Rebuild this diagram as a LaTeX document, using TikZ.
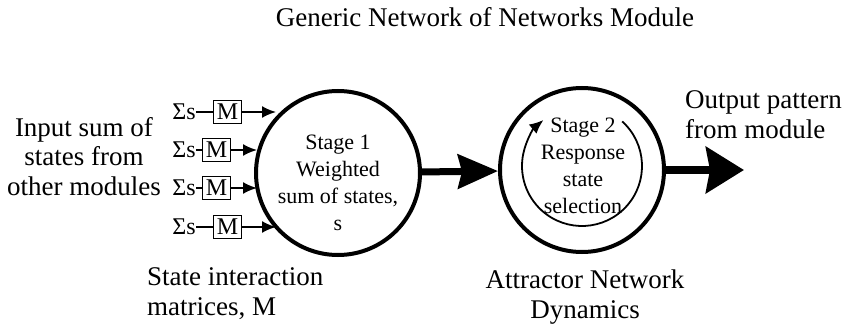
\documentclass[tikz,border=0pt]{standalone}
\usepackage{fontspec}
\setmainfont{Liberation Serif}
\usetikzlibrary{arrows.meta}
\begin{document}
\begin{tikzpicture}[x=1pt,y=-1pt,
  labeltext/.style={font=\fontsize{27}{29.5}\selectfont, inner sep=0pt},
  stagetext/.style={font=\fontsize{22}{27}\selectfont, inner sep=0pt, align=center},
  stagecircle/.style={circle, draw, line width=4pt, minimum size=164pt, inner sep=0pt},
  mbox/.style={draw, line width=1.6pt, minimum width=28pt, minimum height=23pt, inner sep=0pt,
    font=\fontsize{24}{24}\selectfont},
  sumtext/.style={inner sep=0pt, font=\fontsize{24}{24}\selectfont},
  tick/.style={line width=1.6pt},
  smallarrow/.style={line width=1.8pt, -{Latex[length=14pt,width=12pt]}},
  bigarrow/.style={line width=7pt, -{Stealth[length=40pt,width=34pt,inset=4pt]}},
  outarrow/.style={line width=8pt, -{Stealth[length=38pt,width=46pt,inset=4pt]}},
  looparrow/.style={line width=1.8pt, -{Latex[length=14pt,width=12pt]}},
]
\useasboundingbox (0,0) rectangle (845,326);

% title
\node[labeltext, anchor=base] (title) at (485,27) {Generic Network of Networks Module};

% the two stages
\node[stagecircle] (stage1) at (338,173) {};
\node[stagecircle] (stage2) at (582,170) {};

% multi-line nodes: the base anchor sits on the last line
\node[stagetext, anchor=base] (s1text) at (338,230)
  {Stage 1\\Weighted\\sum of states,\\s};
\node[stagetext, anchor=base] (s2text) at (583,213)
  {Stage 2\\Response\\state\\selection};

% recurrent loop inside stage 2
\coordinate (loopc) at (582,166);
\draw[looparrow] (loopc) ++(-48:60) arc[start angle=-48, end angle=230, radius=60];

% inputs: sum of states through interaction matrices
\foreach \i/\y/\mx/\tx in {1/112/227.5/276, 2/150/216.5/257, 3/188/216.5/257, 4/227/227.5/276}{
  \node[sumtext] (sig\i) at (184,\y) {Σs};
  \node[mbox] (m\i) at (\mx,\y) {M};
  \coordinate (in\i) at (\tx,\y);
  \draw[tick] (sig\i) -- (m\i);
  \draw[smallarrow] (m\i) -- (in\i);
}

% main flow
\draw[bigarrow] (stage1) -- (stage2);
\coordinate (out) at (744,170);
\draw[outarrow] (stage2.east) -- (out);

% labels
\node[labeltext, align=center, anchor=base] (inlabel) at (84,195)
  {Input sum of\\states from\\other modules};
\node[labeltext, align=left, anchor=base west] (outlabel) at (685,138)
  {Output pattern\\from module};
\node[labeltext, align=left, anchor=base west] (mlabel) at (147,315)
  {State interaction\\matrices, M};
\node[labeltext, align=center, anchor=base] (alabel) at (585,318)
  {Attractor Network\\Dynamics};
\end{tikzpicture}
\end{document}
